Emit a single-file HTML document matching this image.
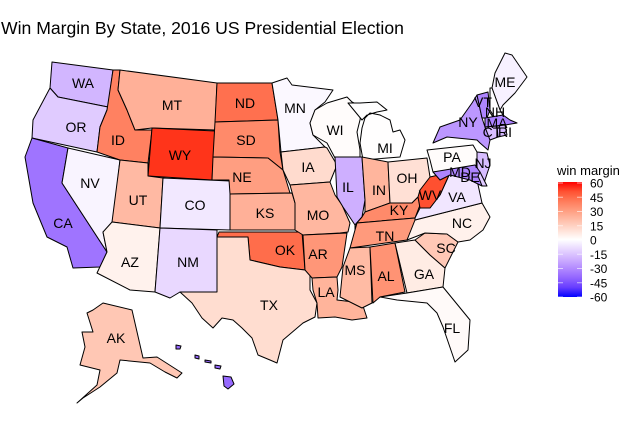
<!DOCTYPE html>
<html><head><meta charset="utf-8"><style>
html,body{margin:0;padding:0;background:#fff;}
svg{display:block;font-family:"Liberation Sans",Arial,sans-serif;}
</style></head><body>
<svg id="map" width="630" height="434" viewBox="0 0 630 434">
<text x="1" y="34" font-size="17.6" fill="#000">Win Margin By State, 2016 US Presidential Election</text>
<g id="states"></g>
<g id="labels"></g>
<g id="legend">
<defs><linearGradient id="lg" x1="0" y1="0" x2="0" y2="1"></linearGradient></defs>
<text x="557" y="175" font-size="13">win margin</text>
<rect x="558" y="182" width="24" height="115" fill="url(#lg)"/>
</g>
</svg>
<script>
const stateNames = ["WA","OR","CA","NV","ID","MT","WY","UT","CO","AZ","NM","ND","SD","NE","KS","OK","TX","MN","IA","MO","AR","LA","WI","IL","MI","IN","OH","KY","TN","MS","AL","GA","FL","SC","NC","VA","WV","PA","NY","ME","NH","VT","MA","CT","RI","NJ","DE","MD","AK","HI"];
const margins = [-15.7,-11.0,-30.1,-2.4,31.8,20.4,46.3,18.1,-4.9,3.5,-8.2,35.7,29.8,25.0,20.4,36.4,9.0,-1.5,9.4,18.6,26.9,19.6,0.8,-17.1,0.2,19.2,8.1,29.8,26.0,17.8,27.7,5.1,1.2,14.3,3.7,-5.3,42.1,0.7,-22.5,-3.0,-0.4,-26.4,-27.2,-13.6,-15.5,-14.1,-11.4,-26.4,14.7,-32.2];
const legendTicks = [60,45,30,15,0,-15,-30,-45,-60];
const limits = [-60,60];

const shapes = {
WA:"52,62 113,70 108,107 83,102 58,97 50,88",
OR:"50,88 58,97 83,102 108,107 107,110 100,127 97,152 32,138 33,120",
CA:"32,138 68,148 62,183 107,252 100,267 73,268 67,247 47,237 33,203 25,157",
NV:"68,148 120,160 112,230 103,232 107,252 62,183",
ID:"113,70 120,70 118,90 127,110 135,130 152,130 148,163 120,160 97,152 100,127 107,110",
MT:"120,70 217,83 215,130 152,128 135,130 127,110 118,90",
WY:"152,128 215,131 212,180 148,176",
UT:"120,160 148,163 148,176 163,178 160,228 112,222",
CO:"163,178 230,181 230,230 160,228",
AZ:"112,222 160,228 155,292 130,290 97,273 107,252 103,232",
NM:"160,228 217,230 217,292 180,292 170,298 155,292",
ND:"217,83 272,83 278,120 215,122",
SD:"215,122 278,120 280,152 283,170 268,158 213,157",
NE:"213,157 268,158 283,170 290,193 230,194 229,180 212,180",
KS:"230,194 292,193 295,203 295,230 230,230",
OK:"219,232 302,232 305,270 280,267 250,260 248,237 217,237",
TX:"217,237 248,237 250,260 280,267 305,270 310,273 310,290 317,303 315,317 303,323 283,340 277,363 270,360 258,355 252,338 242,328 233,320 222,318 213,328 202,318 192,303 180,292 217,292",
MN:"272,83 287,78 292,85 333,90 325,102 315,110 310,123 313,135 325,147 281,152 278,120",
IA:"281,152 325,147 327,148 337,165 330,182 290,185 283,170",
MO:"290,185 330,182 335,195 342,205 350,223 348,232 340,233 303,235 295,230 295,203",
AR:"303,235 347,233 342,267 337,277 312,278 305,270",
LA:"312,278 337,277 338,290 337,300 362,303 367,318 352,320 335,317 318,318 317,303 313,290",
WI:"315,110 327,103 347,97 352,102 362,107 360,120 357,132 360,150 360,157 335,158 327,143 313,135 310,123",
IL:"335,157 362,157 365,200 362,217 355,225 343,207 337,197",
MI:"348,103 360,103 377,102 387,110 377,112 367,115 362,120 Z M370,113 380,115 390,120 393,132 400,130 405,140 400,157 363,160 360,143 362,128 365,118",
IN:"362,157 388,162 390,203 365,212 365,200",
OH:"388,162 427,158 430,177 430,190 418,197 412,203 390,203",
KY:"365,212 390,203 412,203 418,197 420,205 415,218 357,223 355,230 355,225 362,217",
TN:"355,230 357,223 415,218 428,218 407,240 350,248",
MS:"350,248 370,247 372,303 362,308 340,297 343,267",
AL:"370,247 395,243 405,292 380,297 373,303",
GA:"395,243 415,240 430,255 445,268 443,287 407,293",
FL:"380,297 407,293 443,287 470,320 468,350 455,362 443,327 437,313 427,303 397,300",
SC:"415,240 425,233 447,234 458,242 445,268 430,255",
NC:"407,240 415,220 482,203 490,217 483,230 470,240 458,242 447,234 425,233",
VA:"415,218 420,208 430,208 440,195 450,173 477,180 482,203 415,220",
WV:"418,197 420,190 430,177 447,173 450,173 440,195 430,208 420,208",
PA:"427,150 473,145 477,152 477,167 433,172 430,160",
NY:"477,95 482,118 485,127 490,140 488,150 480,143 477,140 447,137 433,143 440,127 460,120 472,103",
ME:"505,53 512,55 527,77 515,93 503,105 500,110 492,88 495,73",
NH:"490,88 492,88 500,110 503,115 495,118 490,110",
VT:"477,95 488,92 490,110 487,118 482,118",
MA:"485,118 503,115 510,120 517,123 505,125 485,127",
CT:"485,127 497,126 498,137 490,140",
RI:"497,126 505,125 507,135 498,137",
NJ:"477,152 487,153 490,165 484,183 478,170 477,167",
DE:"480,172 487,186 482,186 478,176",
MD:"433,172 475,165 480,172 478,176 482,186 470,180 450,175 440,180",
AK:"103,303 132,310 143,358 157,357 182,373 177,378 165,372 150,363 120,360 117,373 100,387 83,398 77,403 97,385 100,370 80,365 85,347 82,332 93,332 87,313 93,310",
HI:"176,345 181,346 180,349 176,349 Z M195,355 199,356 199,359 195,358 Z M205,360 211,361 211,363 205,362 Z M215,365 221,366 220,369 215,368 Z M223,376 231,377 234,384 228,389 224,386"
};
const labelPos = {WA:[83,83],OR:[76,127],CA:[63,223],NV:[90,183],ID:[118,140],MT:[172,105],WY:[180,155],UT:[138,200],CO:[195,205],AZ:[130,262],NM:[188,262],ND:[245,103],SD:[246,140],NE:[242,177],KS:[265,213],OK:[285,250],TX:[269,305],MN:[295,108],IA:[308,167],MO:[318,215],AR:[318,254],LA:[326,292],WI:[335,130],IL:[348,187],MI:[385,148],IN:[379,190],OH:[407,178],KY:[399,210],TN:[385,236],MS:[355,270],AL:[386,276],GA:[424,274],FL:[452,328],SC:[446,248],NC:[462,223],VA:[457,197],WV:[430,195],PA:[452,157],NY:[468,122],ME:[505,82],NH:[495,112],VT:[483,102],MA:[497,123],CT:[492,132],RI:[505,132],NJ:[483,163],DE:[470,177],MD:[460,172],AK:[116,338]};

function toLin(c){c/=255;return c<=0.04045?c/12.92:Math.pow((c+0.055)/1.055,2.4);}
function fromLin(c){c=c<=0.0031308?12.92*c:1.055*Math.pow(c,1/2.4)-0.055;return Math.max(0,Math.min(255,Math.round(c*255)));}
function rgb2lab(r,g,b){r=toLin(r);g=toLin(g);b=toLin(b);
 let x=(r*0.4124+g*0.3576+b*0.1805)/0.95047,y=r*0.2126+g*0.7152+b*0.0722,z=(r*0.0193+g*0.1192+b*0.9505)/1.08883;
 const f=t=>t>0.008856?Math.cbrt(t):7.787*t+16/116;x=f(x);y=f(y);z=f(z);
 return [116*y-16,500*(x-y),200*(y-z)];}
function lab2rgb(L,a,bb){let y=(L+16)/116,x=a/500+y,z=y-bb/200;
 const fi=t=>t*t*t>0.008856?t*t*t:(t-16/116)/7.787;x=fi(x)*0.95047;y=fi(y);z=fi(z)*1.08883;
 const r=x*3.2406+y*-1.5372+z*-0.4986,g=x*-0.9689+y*1.8758+z*0.0415,b=x*0.0557+y*-0.2040+z*1.0570;
 return 'rgb('+fromLin(r)+','+fromLin(g)+','+fromLin(b)+')';}
const W=rgb2lab(255,255,255),R=rgb2lab(255,0,0),B=rgb2lab(0,0,255);
function colorFor(v,boost){let t=Math.max(-1,Math.min(1,v/limits[1]*(boost||1)));const e=t>=0?R:B;t=Math.abs(t);t=Math.min(1,t);
 return lab2rgb(W[0]+(e[0]-W[0])*t,W[1]+(e[1]-W[1])*t,W[2]+(e[2]-W[2])*t);}

const NS='http://www.w3.org/2000/svg';
const gS=document.getElementById('states'),gL=document.getElementById('labels');
stateNames.forEach((s,i)=>{
 const p=document.createElementNS(NS,'path');
 const d=shapes[s].split(' Z ').map(part=>{part=part.replace(/^M/,'');return 'M'+part.trim().split(' ').join(' L')+' Z';}).join(' ');
 p.setAttribute('d',d);
 p.setAttribute('fill',colorFor(margins[i],1.2));
 p.setAttribute('stroke','#000');p.setAttribute('stroke-width','1');p.setAttribute('stroke-linejoin','round');
 
 
 gS.appendChild(p);
 if(labelPos[s]){
  const t=document.createElementNS(NS,'text');
  t.setAttribute('x',labelPos[s][0]);t.setAttribute('y',labelPos[s][1]+5);
  t.setAttribute('text-anchor','middle');t.setAttribute('font-size','14');
  t.textContent=s;
  
  
  gL.appendChild(t);
 }
});
const lg=document.getElementById('lg');
for(let k=0;k<=12;k++){const v=limits[1]-k*(limits[1]-limits[0])/12;
 const st=document.createElementNS(NS,'stop');st.setAttribute('offset',(k/12));st.setAttribute('stop-color',colorFor(v,1));lg.appendChild(st);}
const leg=document.getElementById('legend');
const y0=183,y1=297;
legendTicks.forEach(v=>{
 const y=y0+(limits[1]-v)/(limits[1]-limits[0])*(y1-y0);
 const t=document.createElementNS(NS,'text');
 t.setAttribute('x',590);t.setAttribute('y',y+4.5);t.setAttribute('font-size','12');
 t.textContent=v;
 
 
 leg.appendChild(t);
 [558,577].forEach(x=>{const l=document.createElementNS(NS,'line');
  l.setAttribute('x1',x);l.setAttribute('x2',x+5);l.setAttribute('y1',y);l.setAttribute('y2',y);
  l.setAttribute('stroke','#fff');l.setAttribute('stroke-opacity','0.6');
  
  
  leg.appendChild(l);});
});
</script>
</body></html>
